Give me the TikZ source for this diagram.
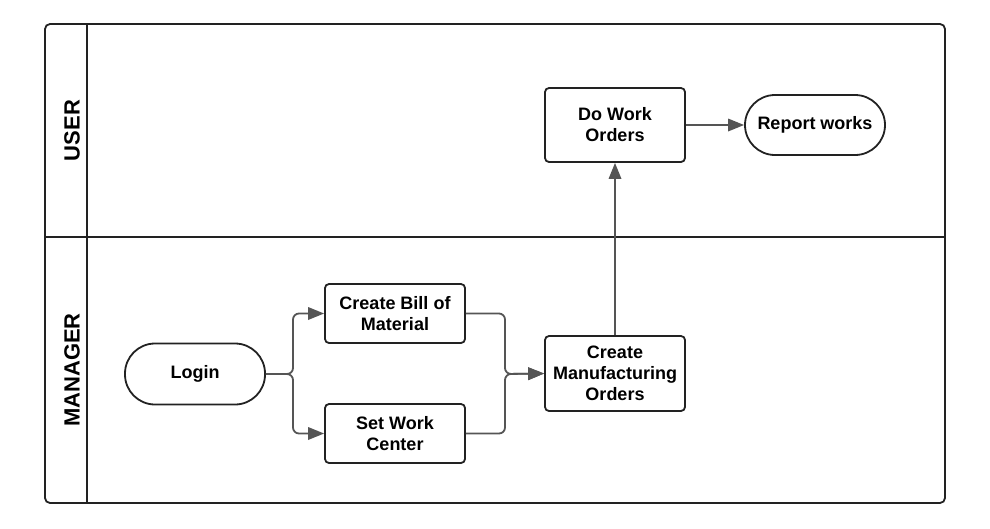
\documentclass[tikz,border=0pt]{standalone}
\usepackage{fontspec}
\setmainfont{Liberation Sans}
\usetikzlibrary{arrows.meta,positioning}
\definecolor{frame}{HTML}{222222}
\definecolor{conn}{HTML}{555555}
\tikzset{
  nodefont/.style={font=\fontsize{18}{21}\selectfont\bfseries},
  stepbox/.style={draw=frame, line width=1.8pt, rounded corners=4pt, minimum width=140pt, inner sep=0pt, align=center, nodefont},
  pill/.style={draw=frame, line width=1.8pt, rounded corners=30pt, minimum width=140pt, minimum height=60pt, inner sep=0pt, align=center, nodefont},
  lanelabel/.style={rotate=90, font=\fontsize{22}{26}\selectfont\bfseries, inner sep=0pt},
  conn/.style={draw=conn, line width=1.8pt, rounded corners=6pt},
  arr/.style={conn, -{Triangle[length=16pt,width=12.5pt]}},
}
\begin{document}
\begin{tikzpicture}[x=1pt,y=-1pt]
\useasboundingbox (0,0) rectangle (990,528);
% frame and lanes
\draw[frame, line width=1.8pt, rounded corners=5pt] (45,24) rectangle (945,503);
\draw[frame, line width=1.8pt] (87,24) -- (87,503);
\draw[frame, line width=1.8pt] (45,237) -- (945,237);
\node[lanelabel] (luser) at (72,130.5) {USER};
\node[lanelabel] (lmanager) at (72,370) {MANAGER};
% nodes
\node[stepbox, minimum height=74pt] (dwo) at (615,125) {Do Work\\Orders};
\node[pill] (rw) at (815,125) {Report works};
\node[stepbox, minimum height=59pt] (cbm) at (395,313.5) {Create Bill of\\Material};
\node[stepbox, minimum height=59pt] (swc) at (395,433.5) {Set Work\\Center};
\node[pill, minimum height=61pt] (login) at (195,374) {Login};
\node[stepbox, minimum height=75pt] (cmo) at (615,373.5) {Create\\Manufacturing\\Orders};
% connectors
\coordinate (split) at (293,374);
\coordinate (merge) at (505,374);
\draw[arr] (login.east) -- (split) |- (cbm.west);
\draw[arr] (login.east) -- (split) |- (swc.west);
\draw[arr] (cbm.east) -| (merge) -- (cmo.west);
\draw[arr] (swc.east) -| (merge) -- (cmo.west);
\draw[arr] (cmo.north) -- (dwo.south);
\draw[arr] (dwo.east) -- (rw.west);
\end{tikzpicture}
\end{document}
